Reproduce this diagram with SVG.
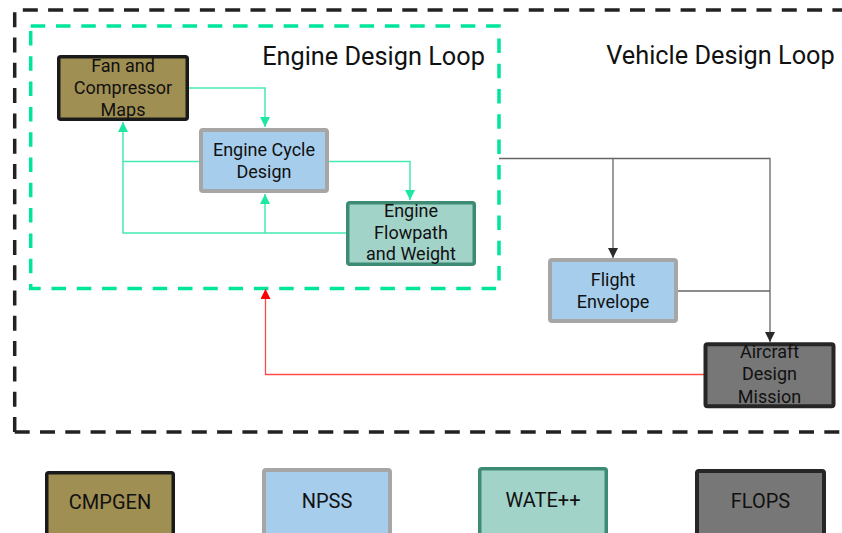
<svg xmlns="http://www.w3.org/2000/svg" width="842" height="533" viewBox="0 0 842 533">
<defs>
<style>
text{font-family:Roboto,"Liberation Sans",sans-serif;fill:#111;text-anchor:middle}
.t{font-size:18px}
.l{font-size:20px}
.title{font-size:25.3px}
.cmp{fill:#a08f53;stroke:#1a1a1a;stroke-width:3.5}
.npss{fill:#a6cdeb;stroke:#a6a6a6;stroke-width:4}
.wate{fill:#a2d3c9;stroke:#3d8b74;stroke-width:3.5}
.flops{fill:#777777;stroke:#262626;stroke-width:4}
.g{fill:none;stroke:#45eab0;stroke-width:1.5}
.k{fill:none;stroke:#666;stroke-width:1.3}
.r{fill:none;stroke:#ff4a4a;stroke-width:1.3}
</style>
<marker id="ag" viewBox="0 0 10 10" refX="10" refY="5" markerWidth="10" markerHeight="10" markerUnits="userSpaceOnUse" orient="auto"><path d="M0,0 L10,5 L0,10 z" fill="#1ee8a0"/></marker>
<marker id="ak" viewBox="0 0 10 10" refX="10" refY="5" markerWidth="10" markerHeight="10" markerUnits="userSpaceOnUse" orient="auto"><path d="M0,0 L10,5 L0,10 z" fill="#2a2a2a"/></marker>
<marker id="ar" viewBox="0 0 10 10" refX="10" refY="5" markerWidth="11" markerHeight="10" markerUnits="userSpaceOnUse" orient="auto"><path d="M0,0 L10,5 L0,10 z" fill="#ff0000"/></marker>
</defs>
<rect width="842" height="533" fill="#fff"/>
<g id="vehicle-loop">
<path d="M14.7,432 V10 H860 M14.7,432 H860" fill="none" stroke="#222" stroke-width="3.5" stroke-dasharray="15 10.3"/>
<text class="title" x="720.5" y="64">Vehicle Design Loop</text>
</g>
<g id="engine-loop">
<rect x="30.7" y="26" width="468.3" height="262.5" fill="none" stroke="#00e59c" stroke-width="3.5" stroke-dasharray="14.5 10.8"/>
<text class="title" x="373.5" y="65">Engine Design Loop</text>
</g>
<g id="connectors">
<path class="g" d="M189,88 H265 V127" marker-end="url(#ag)"/>
<path class="g" d="M329,161.5 H410 V200" marker-end="url(#ag)"/>
<path class="g" d="M199,161.5 H123"/>
<path class="g" d="M346,233 H123 V122" marker-end="url(#ag)"/>
<path class="g" d="M265,233 V194" marker-end="url(#ag)"/>
<path class="k" d="M499,158.5 H770 V342" marker-end="url(#ak)"/>
<path class="k" d="M613,158.5 V258" marker-end="url(#ak)"/>
<path class="k" d="M678,291 H770"/>
<path class="r" d="M705,374.5 H265.5 V289" marker-end="url(#ar)"/>
</g>
<g id="fan-compressor-maps">
<rect class="cmp" x="58.75" y="56.75" width="128.5" height="62.5" rx="2"/>
<text class="t" x="123" y="72">Fan and</text>
<text class="t" x="123" y="94">Compressor</text>
<text class="t" x="123" y="116">Maps</text>
</g>
<g id="engine-cycle-design">
<rect class="npss" x="201" y="130" width="126" height="61" rx="2"/>
<text class="t" x="264" y="156">Engine Cycle</text>
<text class="t" x="264" y="177.5">Design</text>
</g>
<g id="engine-flowpath-weight">
<rect class="wate" x="347.75" y="202.75" width="126.5" height="61.5" rx="2"/>
<text class="t" x="411" y="217">Engine</text>
<text class="t" x="411" y="238.5">Flowpath</text>
<text class="t" x="411" y="260">and Weight</text>
</g>
<g id="flight-envelope">
<rect class="npss" x="550" y="260" width="126" height="61" rx="2"/>
<text class="t" x="613" y="286">Flight</text>
<text class="t" x="613" y="308">Envelope</text>
</g>
<g id="aircraft-design-mission">
<rect class="flops" x="705.5" y="344.3" width="128" height="62" rx="2"/>
<text class="t" x="769.5" y="358.3">Aircraft</text>
<text class="t" x="769.5" y="380.3">Design</text>
<text class="t" x="769.5" y="402.5">Mission</text>
</g>
<g id="legend-cmpgen">
<rect class="cmp" x="46.75" y="472.75" width="126.5" height="80" rx="2"/>
<text class="l" x="110" y="509">CMPGEN</text>
</g>
<g id="legend-npss">
<rect class="npss" x="264" y="470" width="126" height="80" rx="2"/>
<text class="l" x="327" y="508">NPSS</text>
</g>
<g id="legend-wate">
<rect class="wate" x="479.75" y="468.75" width="126.5" height="80" rx="2"/>
<text class="l" x="543" y="507">WATE++</text>
</g>
<g id="legend-flops">
<rect class="flops" x="697" y="471" width="127" height="80" rx="2"/>
<text class="l" x="760.5" y="508">FLOPS</text>
</g>
</svg>
